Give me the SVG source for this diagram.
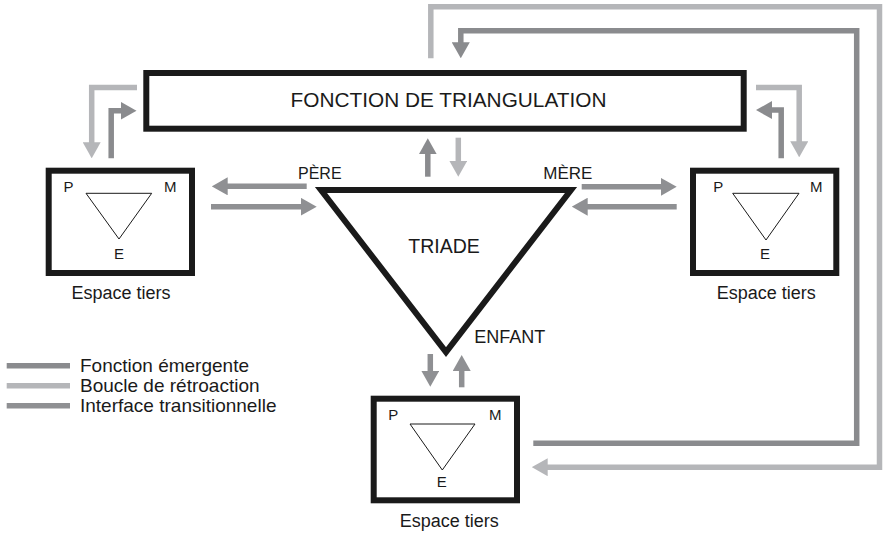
<svg xmlns="http://www.w3.org/2000/svg" width="884" height="533" viewBox="0 0 884 533">
<style>
  text { font-family: "Liberation Sans", Arial, sans-serif; fill: #1a1a1a; }
  .box { fill: #ffffff; stroke: #1a1a1a; stroke-width: 6; }
  .tri { fill: none; stroke: #1a1a1a; stroke-width: 1; }
  .big { fill: none; stroke: #1a1a1a; stroke-width: 6; stroke-linejoin: miter; stroke-miterlimit: 10; }
  .em { fill: none; stroke: #8a8b8e; stroke-width: 5.5; stroke-linejoin: miter; }
  .fb { fill: none; stroke: #b5b6b9; stroke-width: 5.5; stroke-linejoin: miter; }
  .it { fill: none; stroke: #8f9093; stroke-width: 5.5; stroke-linejoin: miter; }
  .lbl { font-size: 15px; }
  .esp { font-size: 18px; text-anchor: middle; }
  .leg { font-size: 19px; }
</style>
<defs>
  <marker id="aem" markerUnits="userSpaceOnUse" markerWidth="16" markerHeight="18" viewBox="0 0 16 18" refX="1" refY="9" orient="auto">
    <path d="M0,0 L16,9 L0,18 z" fill="#8a8b8e"/>
  </marker>
  <marker id="afb" markerUnits="userSpaceOnUse" markerWidth="16" markerHeight="18" viewBox="0 0 16 18" refX="1" refY="9" orient="auto">
    <path d="M0,0 L16,9 L0,18 z" fill="#b5b6b9"/>
  </marker>
  <marker id="ait" markerUnits="userSpaceOnUse" markerWidth="16" markerHeight="18" viewBox="0 0 16 18" refX="1" refY="9" orient="auto">
    <path d="M0,0 L16,9 L0,18 z" fill="#8f9093"/>
  </marker>
</defs>

<g id="connectors">
  <path class="fb" d="M430.8,58.3 V6.7 H879.5 V467.2 H546.7" marker-end="url(#afb)"/>
  <path class="em" d="M533.3,443.3 H856.7 V30.8 H460.8 V43.3" marker-end="url(#aem)"/>
  <path class="fb" d="M137,87.5 H91.7 V143.3" marker-end="url(#afb)"/>
  <path class="em" d="M111.2,158.3 V110.7 H121.5" marker-end="url(#aem)"/>
  <path class="fb" d="M756,87.5 H799.2 V142.3" marker-end="url(#afb)"/>
  <path class="em" d="M781.2,158.3 V110 H771" marker-end="url(#aem)"/>
  <path class="em" d="M427.8,176.7 V153.3" marker-end="url(#aem)"/>
  <path class="fb" d="M458.3,137.7 V161.7" marker-end="url(#afb)"/>
  <path class="it" d="M306.7,186.3 H226.7" marker-end="url(#ait)"/>
  <path class="it" d="M211,206.7 H301.7" marker-end="url(#ait)"/>
  <path class="it" d="M581.7,186.8 H661.7" marker-end="url(#ait)"/>
  <path class="it" d="M676.7,206.7 H586.7" marker-end="url(#ait)"/>
  <path class="it" d="M430.3,354 V371.7" marker-end="url(#ait)"/>
  <path class="it" d="M461.7,387.3 V370" marker-end="url(#ait)"/>
</g>

<g id="triangulation">
  <rect class="box" x="146.3" y="73" width="597.4" height="55.7"/>
  <text x="448.5" y="107.3" font-size="20.8" text-anchor="middle">FONCTION DE TRIANGULATION</text>
</g>

<g id="triade">
  <polygon class="big" points="321,190 571,190 446,352"/>
  <text x="444" y="253" font-size="19.5" text-anchor="middle">TRIADE</text>
  <text x="298" y="179.3" font-size="16">PÈRE</text>
  <text x="543.3" y="179" font-size="17">MÈRE</text>
  <text x="474.3" y="342.7" font-size="18">ENFANT</text>
</g>

<g id="espace-gauche">
  <rect class="box" x="48.7" y="170.7" width="143.3" height="102.3"/>
  <polygon class="tri" points="86,193.3 151.7,193.3 119,239"/>
  <text class="lbl" x="63.5" y="191.7">P</text>
  <text class="lbl" x="164" y="191.7">M</text>
  <text class="lbl" x="114" y="259.3">E</text>
  <text class="esp" x="121" y="299.3">Espace tiers</text>
</g>

<g id="espace-droite">
  <rect class="box" x="693" y="170.7" width="143.3" height="102.3"/>
  <polygon class="tri" points="732.7,193.3 799,193.3 766,240"/>
  <text class="lbl" x="713.3" y="191.7">P</text>
  <text class="lbl" x="810" y="191.7">M</text>
  <text class="lbl" x="760" y="259.3">E</text>
  <text class="esp" x="766.3" y="299.3">Espace tiers</text>
</g>

<g id="espace-bas">
  <rect class="box" x="373.7" y="398.7" width="143.3" height="101.6"/>
  <polygon class="tri" points="410,424 475,424 442.3,470"/>
  <text class="lbl" x="388.3" y="420">P</text>
  <text class="lbl" x="489" y="420">M</text>
  <text class="lbl" x="436.7" y="486.7">E</text>
  <text class="esp" x="449.3" y="527">Espace tiers</text>
</g>

<g id="legende">
  <line class="em" x1="6.7" y1="365.8" x2="70" y2="365.8"/>
  <line class="fb" x1="6.7" y1="385.8" x2="70" y2="385.8"/>
  <line class="it" x1="6.7" y1="405.8" x2="70" y2="405.8"/>
  <text class="leg" x="80" y="371.7">Fonction émergente</text>
  <text class="leg" x="80" y="391.7">Boucle de rétroaction</text>
  <text class="leg" x="80" y="412">Interface transitionnelle</text>
</g>
</svg>
